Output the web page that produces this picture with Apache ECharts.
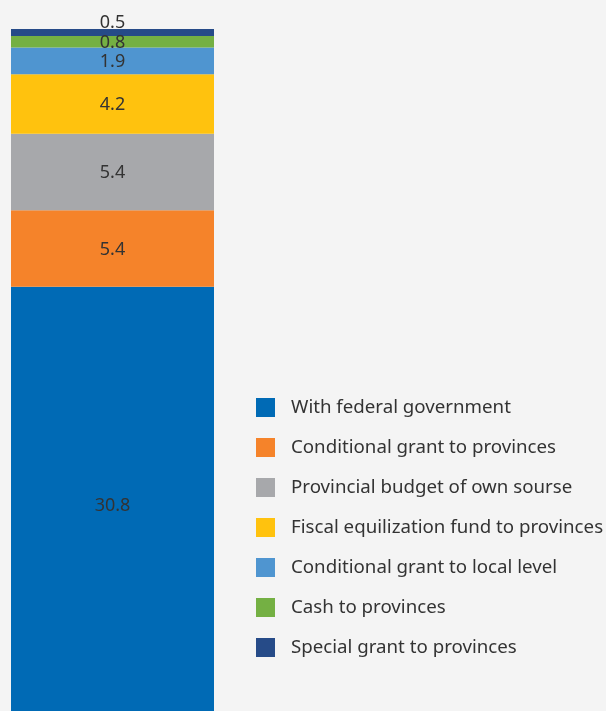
<!DOCTYPE html>
<html>
<head>
<meta charset="utf-8">
<script src="https://cdn.jsdelivr.net/npm/echarts@6/dist/echarts.min.js"></script>
<style>
  html, body { margin: 0; padding: 0; background: #f4f4f4; }
  #chart { width: 606px; height: 711px; }
</style>
</head>
<body>
<div id="chart"></div>
<script>
const seriesNames = [
    'With federal government',
    'Conditional grant to provinces',
    'Provincial budget of own sourse',
    'Fiscal equilization fund to provinces',
    'Conditional grant to local level',
    'Cash to provinces',
    'Special grant to provinces'
];
const seriesValues = [30.8, 5.4, 5.4, 4.2, 1.9, 0.8, 0.5];
const seriesColors = ['#006ab5', '#f5832a', '#a7a8ab', '#ffc20e', '#4f95d0', '#74b043', '#264b88'];
const labelShift = [0, 0, 0, 0, 0, 0, -11];

document.addEventListener('DOMContentLoaded', () => {
    const chart = echarts.init(document.getElementById('chart'));
    const total = seriesValues.reduce((a, b) => a + b, 0);
    const series = seriesNames.map((name, i) => ({
        name: name,
        type: 'bar',
        stack: 'total',
        barWidth: 203,
        data: [seriesValues[i]],
        itemStyle: { color: seriesColors[i] },
        label: {
            show: true,
            position: 'inside',
            offset: [0, labelShift[i] + 1],
            color: '#333333',
            fontFamily: 'Noto Sans',
            fontSize: 18
        }
    }));

    const option = {
        animation: false,
        backgroundColor: '#f4f4f4',
        grid: { left: 11, width: 203, top: 29, height: 694, outerBoundsMode: 'none' },
        xAxis: {
            type: 'category',
            data: [''],
            show: false
        },
        yAxis: {
            type: 'value',
            min: 0,
            max: total,
            show: false
        },
        legend: {
            orient: 'vertical',
            left: 251,
            top: 393,
            itemWidth: 19,
            itemHeight: 19,
            itemGap: 21,
            icon: 'rect',
            data: seriesNames.slice(),
            textStyle: { color: '#333333', fontFamily: 'Noto Sans', fontSize: 18.7, padding: [0, 0, 0, 11] }
        },
        series: series
    };
    chart.setOption(option);
});
</script>
</body>
</html>
